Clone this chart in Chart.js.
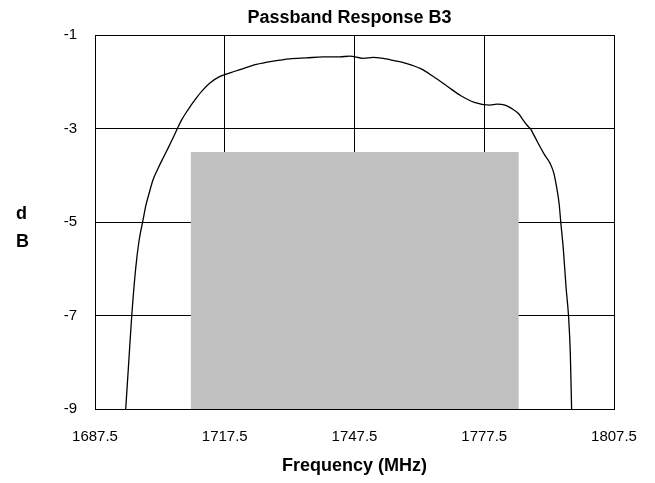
<!DOCTYPE html>
<html>
<head>
<meta charset="utf-8">
<script src="https://cdn.jsdelivr.net/npm/chart.js@4/dist/chart.umd.min.js"></script>
<style>
  html, body { margin: 0; padding: 0; background: #fff; }
  #wrap { width: 655px; height: 483px; position: relative; }
</style>
</head>
<body>
<div id="wrap"><canvas id="c"></canvas></div>
<script>
// Passband response curve (frequency in MHz, attenuation in dB)
const freq = [1694.6, 1695.3, 1696.0, 1696.9, 1697.7, 1698.6, 1699.2, 1700.0, 1700.9, 1702.1,
  1703.2, 1704.4, 1705.5, 1706.5, 1707.5, 1709.0, 1710.6, 1712.1, 1714.0, 1716.3,
  1718.7, 1721.0, 1724.8, 1728.7, 1732.5, 1736.4, 1740.2, 1744.1, 1746.4, 1749.5,
  1751.9, 1755.8, 1759.6, 1762.8, 1765.9, 1769.0, 1772.1, 1775.2, 1778.8, 1780.4,
  1782.3, 1783.8, 1785.4, 1786.5, 1787.4, 1788.2, 1789.2, 1790.4, 1791.5, 1792.7,
  1793.6, 1794.2, 1794.8, 1795.2, 1795.8, 1796.4, 1797.0, 1797.4, 1797.7];
const dB = [-9.0, -8.0, -7.0, -6.0, -5.39, -4.96, -4.67, -4.39, -4.10, -3.85,
  -3.64, -3.42, -3.21, -3.01, -2.82, -2.60, -2.39, -2.21, -2.03, -1.89,
  -1.81, -1.74, -1.63, -1.56, -1.51, -1.49, -1.47, -1.47, -1.45, -1.50,
  -1.48, -1.53, -1.61, -1.72, -1.90, -2.10, -2.30, -2.44, -2.50, -2.48,
  -2.50, -2.57, -2.68, -2.82, -2.93, -3.01, -3.18, -3.39, -3.57, -3.74,
  -3.96, -4.24, -4.60, -5.01, -5.60, -6.38, -7.03, -7.81, -9.0];

// Passband mask (shaded region)
const bandFreq = [1709.6, 1785.5];
const bandLevel = [-3.5, -3.5];

// Axis ticks
const xTicks = [1687.5, 1717.5, 1747.5, 1777.5, 1807.5];
const yTicks = [-9, -7, -5, -3, -1];

const FONT = "'Liberation Sans', Arial, sans-serif";

const textPlugin = {
  id: 'extraText',
  afterDraw(chart) {
    const ctx = chart.ctx;
    ctx.save();
    ctx.fillStyle = '#000';
    ctx.textBaseline = 'alphabetic';
    ctx.font = "bold 18px " + FONT;
    ctx.textAlign = 'center';
    ctx.fillText('Passband Response B3', 349.5, 23);
    ctx.textAlign = 'left';
    ctx.fillText('d', 16, 219);
    ctx.fillText('B', 16, 247);
    ctx.restore();
  }
};

new Chart(document.getElementById('c'), {
  type: 'line',
  data: {
    datasets: [
      {
        data: freq.map((f, i) => ({ x: f, y: dB[i] })),
        borderColor: '#000',
        borderWidth: 1.3,
        pointRadius: 0,
        fill: false,
        cubicInterpolationMode: 'monotone'
      },
      {
        data: bandFreq.map((f, i) => ({ x: f, y: bandLevel[i] })),
        borderWidth: 0,
        borderColor: 'rgba(0,0,0,0)',
        backgroundColor: '#c0c0c0',
        pointRadius: 0,
        fill: 'start'
      }
    ]
  },
  options: {
    responsive: true,
    maintainAspectRatio: false,
    animation: false,
    layout: { padding: { left: 0, right: 41, top: 35, bottom: 0 } },
    plugins: {
      legend: { display: false },
      tooltip: { enabled: false },
      title: { display: false }
    },
    scales: {
      x: {
        type: 'linear',
        min: xTicks[0],
        max: xTicks[xTicks.length - 1],
        z: 1,
        afterBuildTicks(scale) { scale.ticks = xTicks.map(v => ({ value: v })); },
        afterFit(scale) { scale.height = 74; scale.paddingLeft = 0; scale.paddingRight = 0; },
        grid: { color: '#000', lineWidth: 1, drawTicks: false },
        border: { color: '#000', width: 1 },
        ticks: {
          color: '#000',
          font: { family: FONT, size: 15 },
          padding: 19,
          maxRotation: 0,
          callback: (v) => Number(v).toFixed(1)
        },
        title: {
          display: true,
          text: 'Frequency (MHz)',
          color: '#000',
          font: { family: FONT, size: 18, weight: 'bold' },
          padding: { top: 0, bottom: 6 }
        }
      },
      y: {
        type: 'linear',
        min: yTicks[0],
        max: yTicks[yTicks.length - 1],
        z: 1,
        afterBuildTicks(scale) { scale.ticks = yTicks.map(v => ({ value: v })); },
        afterFit(scale) { scale.width = 95; scale.paddingTop = 0; scale.paddingBottom = 0; },
        grid: { color: '#000', lineWidth: 1, drawTicks: false },
        border: { color: '#000', width: 1 },
        ticks: {
          color: '#000',
          font: { family: FONT, size: 15 },
          padding: 18
        }
      }
    }
  },
  plugins: [textPlugin]
});
</script>
</body>
</html>
